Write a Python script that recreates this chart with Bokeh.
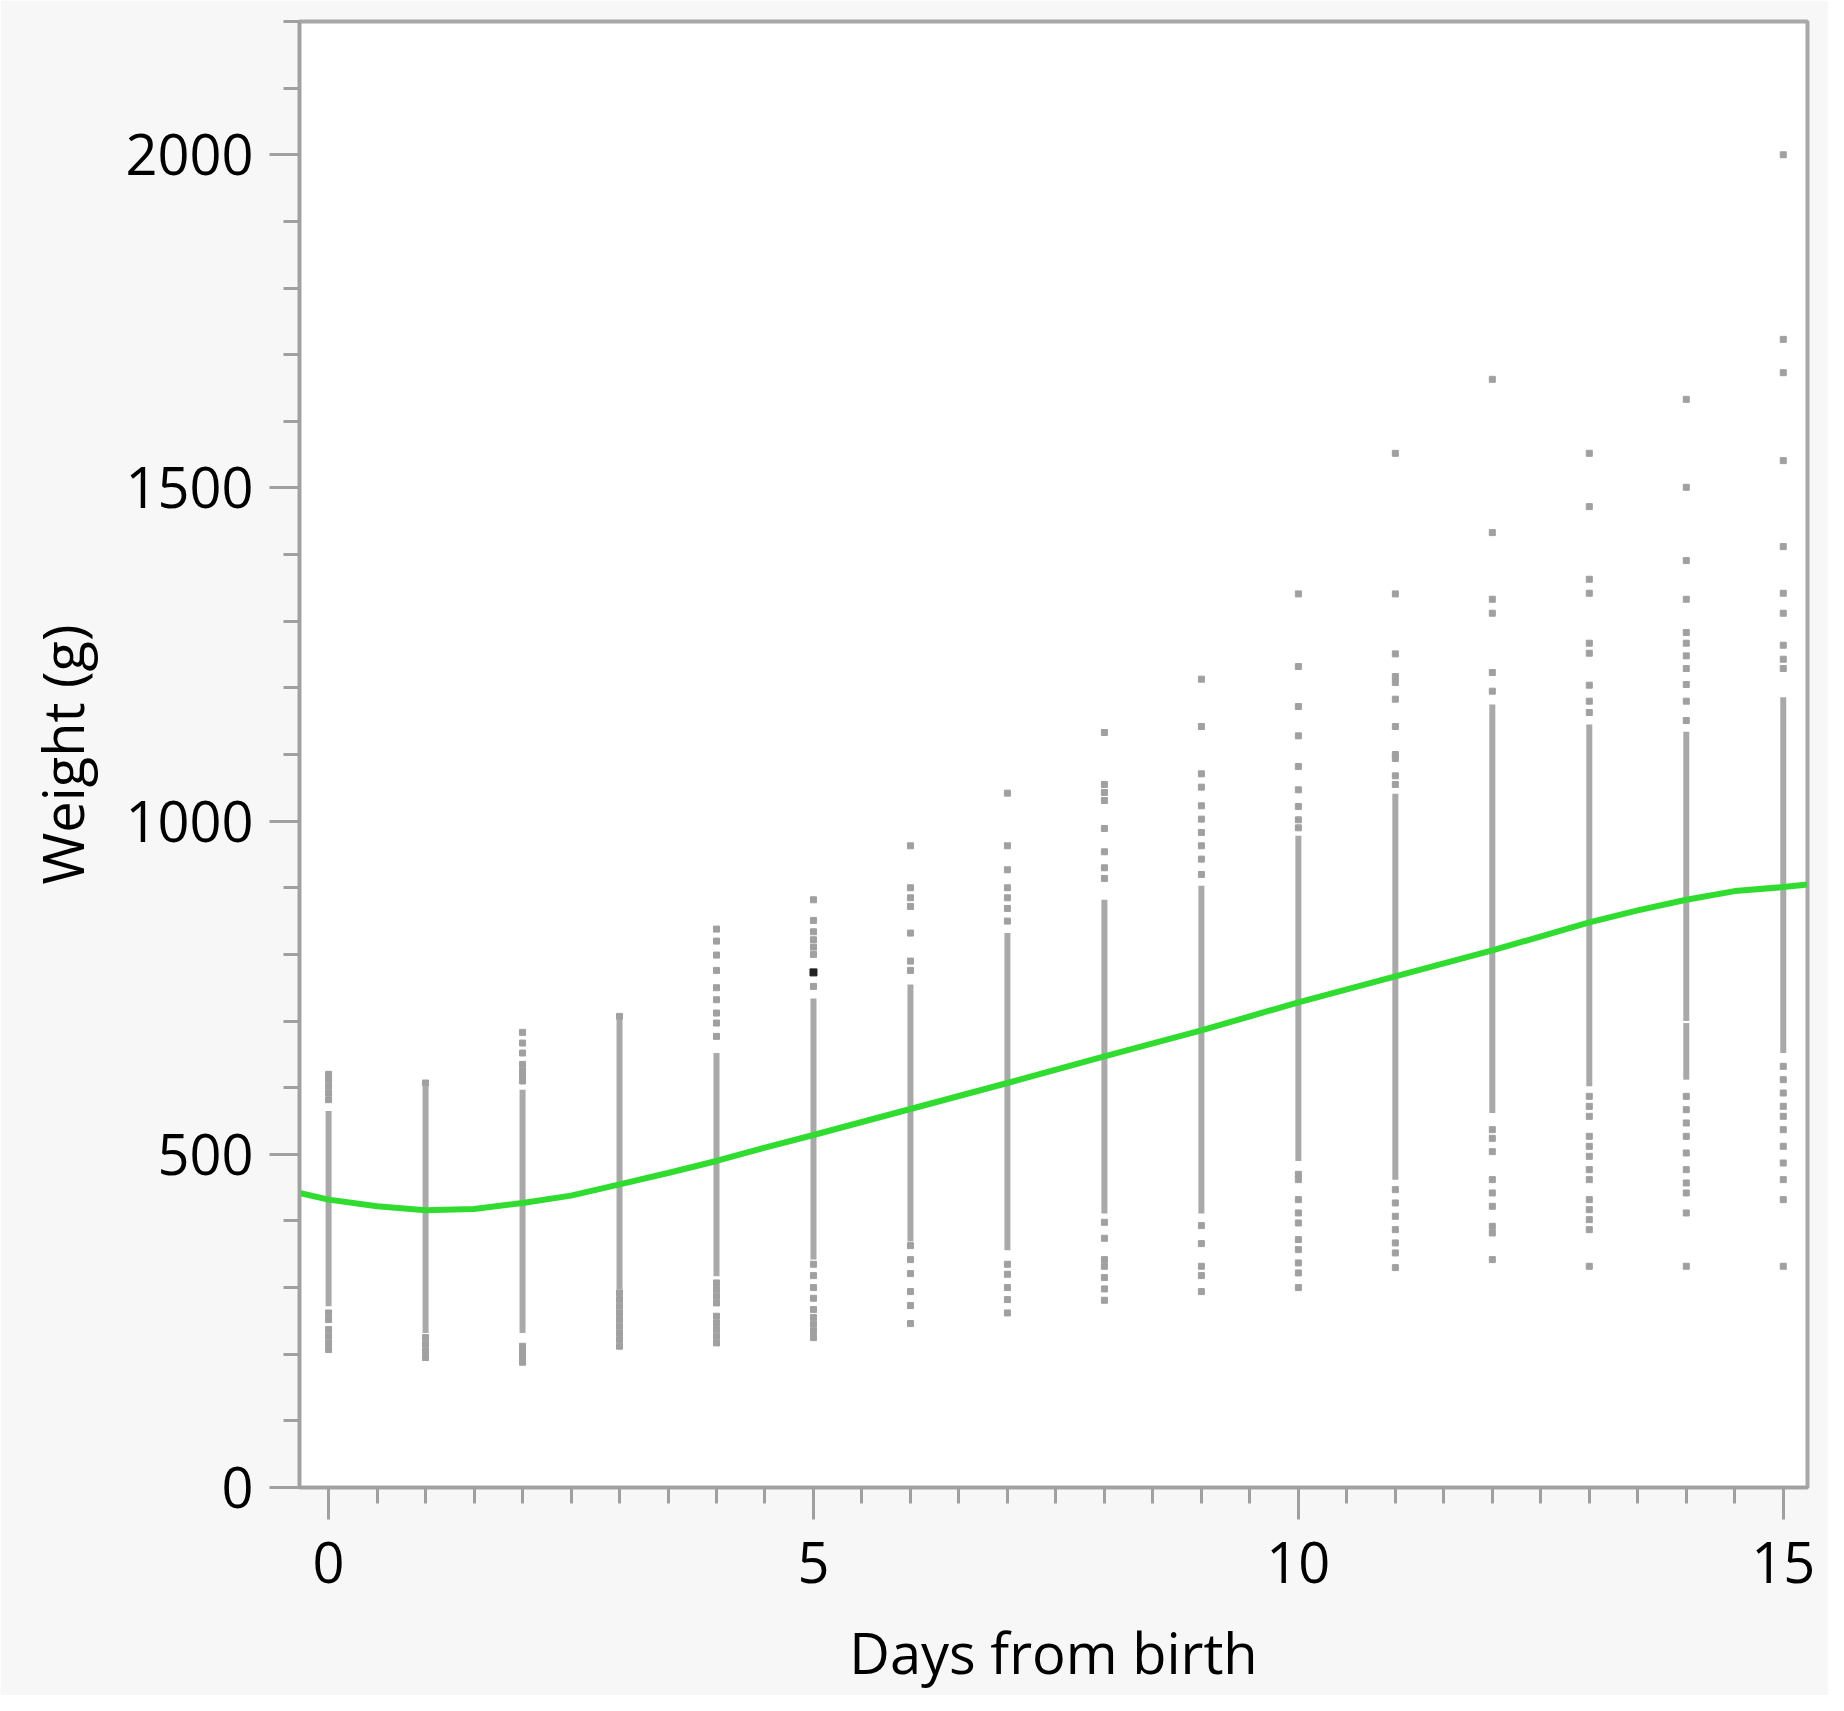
from bokeh.plotting import figure
from bokeh.models import SingleIntervalTicker, Range1d
from bokeh.embed import file_html
from bokeh.resources import INLINE

# ---------------- data ----------------
days = list(range(16))

# dense part of each day's column (low, high) in g
band_day = [0, 1, 2, 3, 4, 5, 6, 7, 8, 9, 10, 11, 12, 13, 14, 14, 15]
band_lo = [272, 232, 232, 297, 317, 342, 369, 356, 411, 411, 490, 462, 562, 602, 700, 612, 652]
band_hi = [565, 602, 597, 702, 652, 734, 755, 832, 882, 903, 978, 1041, 1175, 1145, 1134, 697, 1186]

# scattered individual weights (g) outside the dense part
w_day0 = [620, 612, 602, 592, 582, 262, 252, 237, 227, 217, 207]
w_day1 = [607, 225, 215, 205, 195]
w_day2 = [683, 667, 652, 635, 625, 617, 610, 212, 204, 196, 188]
w_day3 = [707, 292, 282, 272, 262, 252, 242, 232, 222, 212]
w_day4 = [838, 820, 799, 776, 750, 732, 712, 697, 677, 307, 297, 287, 277, 257, 247, 237, 227, 217]
w_day5 = [882, 851, 834, 822, 811, 800, 752, 335, 318, 300, 284, 267, 255, 245, 235, 225]
w_day6 = [963, 900, 885, 872, 832, 790, 776, 363, 342, 321, 294, 273, 246]
w_day7 = [1042, 963, 927, 900, 885, 869, 850, 335, 320, 300, 282, 262]
w_day8 = [1133, 1055, 1043, 1031, 989, 954, 930, 914, 398, 374, 342, 332, 315, 298, 281]
w_day9 = [1213, 1142, 1071, 1051, 1023, 1003, 983, 963, 943, 920, 393, 366, 332, 318, 294]
w_day10 = [1341, 1232, 1172, 1128, 1082, 1047, 1022, 1002, 990, 470, 462, 432, 412, 397, 372, 357, 337, 322, 300]
w_day11 = [1552, 1341, 1251, 1217, 1208, 1183, 1142, 1100, 1094, 1068, 1055, 447, 427, 407, 387, 367, 352, 330]
w_day12 = [1663, 1433, 1333, 1312, 1223, 1195, 537, 524, 504, 462, 442, 422, 392, 382, 342]
w_day13 = [1552, 1472, 1363, 1342, 1267, 1252, 1204, 1180, 1163, 587, 572, 557, 527, 512, 497, 477, 462, 432, 417, 402, 387, 332]
w_day14 = [1633, 1501, 1391, 1333, 1283, 1267, 1248, 1229, 1205, 1180, 1151, 587, 567, 547, 527, 502, 477, 457, 442, 412, 332]
w_day15 = [2000, 1723, 1673, 1541, 1412, 1342, 1312, 1264, 1243, 1229, 632, 612, 592, 572, 557, 537, 512, 487, 462, 432, 332]

# one darker point on day 5
dark_day = [5]
dark_weight = [773]

# fitted smooth curve
fit_days = [-0.3, 0, 0.5, 1, 1.5, 2, 2.5, 3, 3.5, 4, 4.5, 5, 6, 7, 8, 9, 10, 11, 12, 13, 13.5, 14, 14.5, 15, 15.25]
fit_weight = [442, 432, 422, 416, 418, 427, 438, 455, 472, 490, 510, 529, 568, 607, 647, 686, 728, 767, 806, 848, 866, 882, 895, 901, 905]

x_label = "Days from birth"
y_label = "Weight (g)"

# ---------------- figure ----------------
p = figure(width=1828, height=1695, output_backend="svg", toolbar_location=None,
           x_range=Range1d(-0.3, 15.25), y_range=Range1d(0, 2200),
           min_border_left=299, min_border_right=21, min_border_top=21, min_border_bottom=208)
p.border_fill_color = "#f7f7f7"
p.background_fill_color = "white"
p.grid.visible = False
p.outline_line_color = "#a8a8a8"
p.outline_line_width = 4

FONT = "Open Sans"
GRAY = "#a0a0a0"

p.xaxis.ticker = SingleIntervalTicker(interval=5, num_minor_ticks=10)
p.yaxis.ticker = SingleIntervalTicker(interval=500, num_minor_ticks=5)

for ax in (p.xaxis, p.yaxis):
    ax.axis_line_color = GRAY
    ax.axis_line_width = 3
    ax.major_tick_line_color = GRAY
    ax.major_tick_line_width = 3
    ax.minor_tick_line_color = GRAY
    ax.minor_tick_line_width = 3
    ax.major_tick_in = 0
    ax.minor_tick_in = 0
    ax.minor_tick_out = 16
    ax.major_label_text_font = FONT
    ax.major_label_text_font_size = "56px"
    ax.major_label_text_color = "#000000"
    ax.axis_label_text_font = FONT
    ax.axis_label_text_font_size = "56px"
    ax.axis_label_text_font_style = "normal"
    ax.axis_label_text_color = "#000000"

p.xaxis.major_tick_out = 32
p.yaxis.major_tick_out = 30
p.xaxis.major_label_standoff = 22
p.yaxis.major_label_standoff = 16
p.xaxis.axis_label = x_label
p.yaxis.axis_label = y_label
p.xaxis.axis_label_standoff = 28
p.yaxis.axis_label_standoff = 22

# dense bands
p.segment(x0=band_day, y0=band_lo, x1=band_day, y1=band_hi,
          line_width=6, line_color="#a9a9a9")

# scattered points
all_w = [w_day0, w_day1, w_day2, w_day3, w_day4, w_day5, w_day6, w_day7,
         w_day8, w_day9, w_day10, w_day11, w_day12, w_day13, w_day14, w_day15]
px, py = [], []
for d, ws in zip(days, all_w):
    px.extend([d] * len(ws))
    py.extend(ws)
p.scatter(px, py, marker="square", size=6, color="#a0a0a0")
p.scatter(dark_day, dark_weight, marker="square", size=7, color="#222222")

# fitted curve
p.line(fit_days, fit_weight, line_color="#30dc30", line_width=6)

open("out.html", "w").write(file_html(p, INLINE))
